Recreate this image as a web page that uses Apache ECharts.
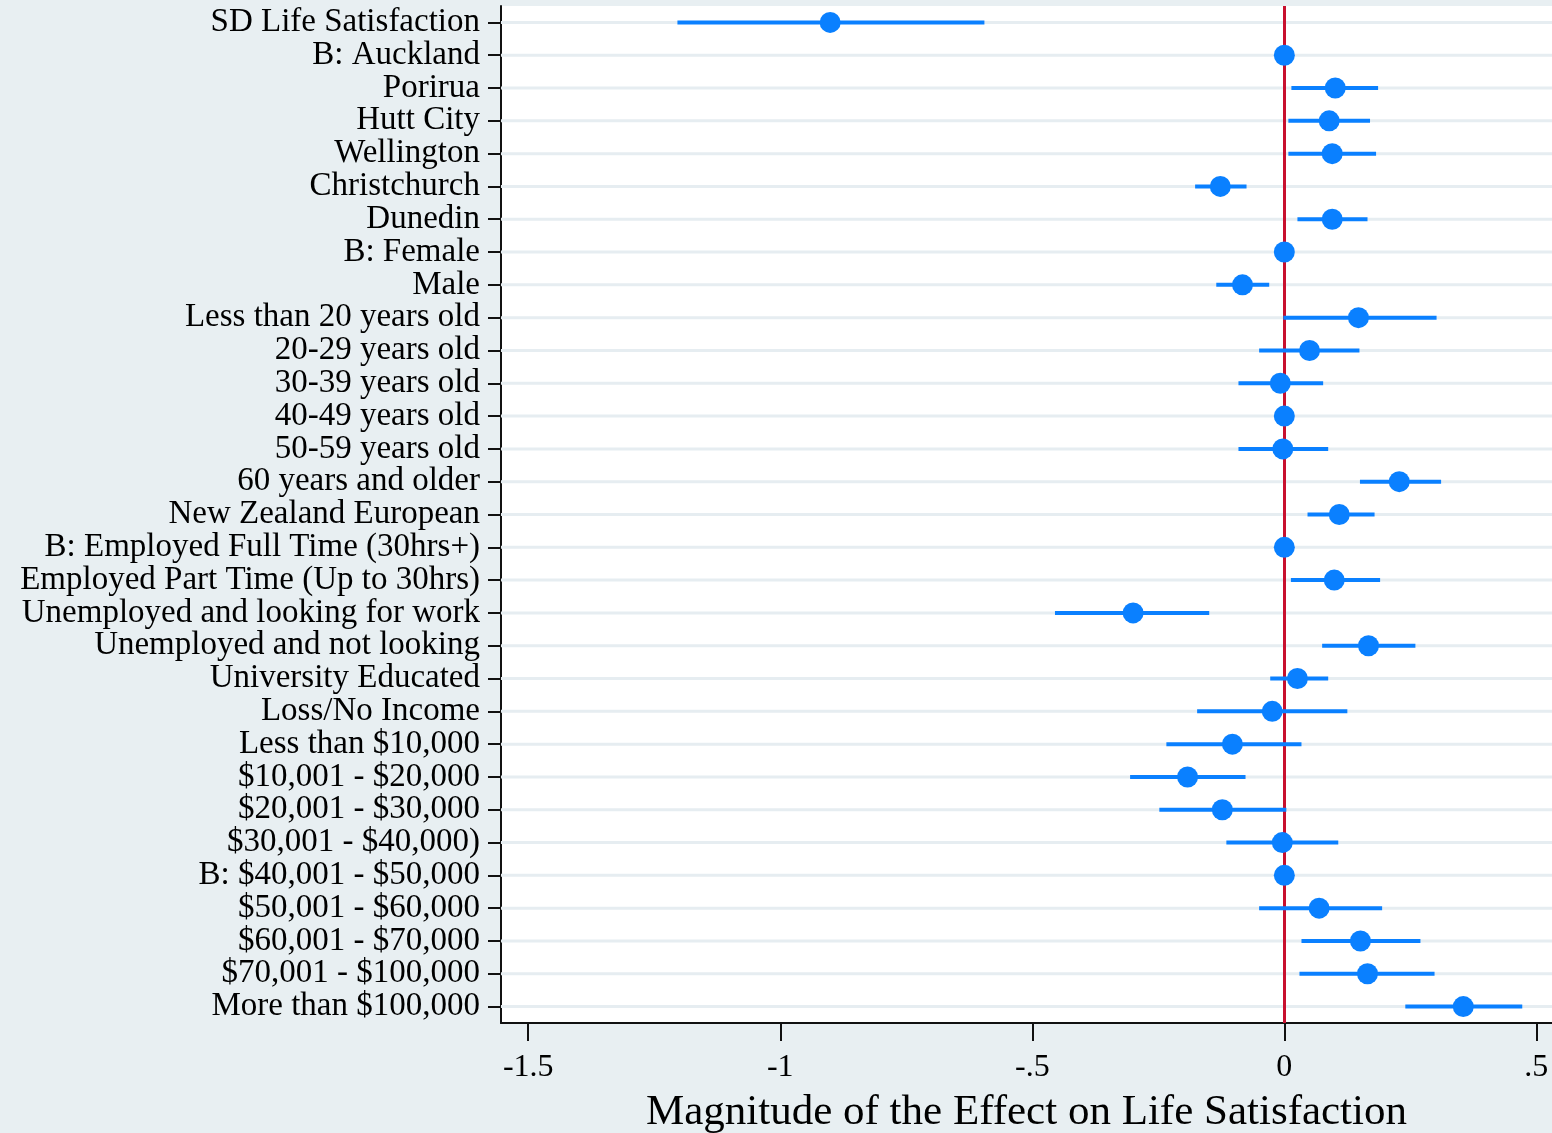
<!DOCTYPE html>
<html>
<head>
<meta charset="utf-8">
<script src="https://cdn.jsdelivr.net/npm/echarts@6/dist/echarts.min.js"></script>
<style>
html,body{margin:0;padding:0;background:#e8eff2;}
#chart{width:1552px;height:1133px;}
</style>
</head>
<body>
<div id="chart"></div>
<script>
const categories = [
  "SD Life Satisfaction", "B: Auckland", "Porirua", "Hutt City", "Wellington",
  "Christchurch", "Dunedin", "B: Female", "Male", "Less than 20 years old",
  "20-29 years old", "30-39 years old", "40-49 years old", "50-59 years old",
  "60 years and older", "New Zealand European", "B: Employed Full Time (30hrs+)",
  "Employed Part Time (Up to 30hrs)", "Unemployed and looking for work",
  "Unemployed and not looking", "University Educated", "Loss/No Income",
  "Less than $10,000", "$10,001 - $20,000", "$20,001 - $30,000",
  "$30,001 - $40,000)", "B: $40,001 - $50,000", "$50,001 - $60,000",
  "$60,001 - $70,000", "$70,001 - $100,000", "More than $100,000"
];
const estimates = [
  -0.901, 0, 0.101, 0.089, 0.095,
  -0.127, 0.095, 0, -0.083, 0.147,
  0.050, -0.008, 0, -0.003,
  0.228, 0.109, 0,
  0.099, -0.300,
  0.167, 0.026, -0.024,
  -0.103, -0.192, -0.123,
  -0.004, 0, 0.069,
  0.151, 0.165, 0.355
];
const lower = [
  -1.204, null, 0.014, 0.008, 0.008,
  -0.177, 0.026, null, -0.135, -0.002,
  -0.050, -0.091, null, -0.091,
  0.150, 0.046, null,
  0.013, -0.455,
  0.075, -0.028, -0.173,
  -0.234, -0.306, -0.248,
  -0.115, null, -0.050,
  0.034, 0.030, 0.240
];
const upper = [
  -0.595, null, 0.186, 0.170, 0.182,
  -0.075, 0.165, null, -0.030, 0.302,
  0.149, 0.077, null, 0.087,
  0.311, 0.179, null,
  0.190, -0.149,
  0.260, 0.087, 0.125,
  0.034, -0.077, 0.004,
  0.107, null, 0.194,
  0.270, 0.298, 0.472
];
const xTicks = [-1.5, -1, -0.5, 0, 0.5];
const xTickLabels = ["-1.5", "-1", "-.5", "0", ".5"];
const referenceValue = 0;

const FONT = "'Liberation Serif', 'Times New Roman', serif";
const chart = echarts.init(document.getElementById('chart'));

const pointData = estimates.map((v, i) => [v, i]);
const barData = [];
lower.forEach((lo, i) => { if (lo !== null) barData.push([lo, upper[i], i]); });
const gridData = categories.map((c, i) => [0, i]);

chart.setOption({
  backgroundColor: '#e8eff2',
  animation: false,
  tooltip: { show: false },
  grid: {
    left: 501, right: 0, top: 6, bottom: 110,
    containLabel: false, outerBoundsMode: 'none',
    show: true, backgroundColor: '#ffffff', borderWidth: 0
  },
  xAxis: {
    type: 'value',
    min: -1.554, max: 0.531,
    axisLine: { show: true, onZero: false, lineStyle: { color: '#111', width: 2 } },
    axisTick: { show: true, customValues: xTicks, length: 18, lineStyle: { color: '#111', width: 2 } },
    axisLabel: {
      customValues: xTicks,
      formatter: v => xTickLabels[xTicks.indexOf(v)] ?? '',
      fontFamily: FONT, fontSize: 32, color: '#000', margin: 29
    },
    splitLine: { show: false },
    name: 'Magnitude of the Effect on Life Satisfaction',
    nameLocation: 'middle', nameGap: 68,
    nameTextStyle: { fontFamily: FONT, fontSize: 43, color: '#000' }
  },
  yAxis: {
    type: 'category',
    data: categories,
    inverse: true,
    axisLine: { show: true, onZero: false, lineStyle: { color: '#111', width: 2 } },
    axisTick: { show: true, alignWithLabel: true, length: 13, lineStyle: { color: '#111', width: 2 } },
    axisLabel: { fontFamily: FONT, fontSize: 33, color: '#000', margin: 21, interval: 0 },
    splitLine: { show: false }
  },
  series: [
    {
      type: 'custom', z: 1, silent: true,
      data: gridData,
      encode: { x: 0, y: 1 },
      label: { show: false },
      renderItem: (params, api) => {
        const p = api.coord([api.value(0), api.value(1)]);
        const cs = params.coordSys;
        return { type: 'line', shape: { x1: cs.x, y1: p[1], x2: cs.x + cs.width, y2: p[1] },
          style: { stroke: '#e6edf1', lineWidth: 3 } };
      },
      markLine: {
        silent: true, symbol: 'none', z: 2,
        label: { show: false },
        lineStyle: { color: '#c8102e', width: 3, type: 'solid' },
        data: [{ xAxis: referenceValue }]
      }
    },
    {
      type: 'custom', z: 6, silent: true,
      data: barData,
      encode: { x: [0, 1], y: 2 },
      label: { show: false },
      renderItem: (params, api) => {
        const a = api.coord([api.value(0), api.value(2)]);
        const b = api.coord([api.value(1), api.value(2)]);
        return { type: 'line', shape: { x1: a[0], y1: a[1], x2: b[0], y2: b[1] },
          style: { stroke: '#0a80ff', lineWidth: 4 } };
      }
    },
    {
      type: 'scatter', z: 10,
      data: pointData,
      symbol: 'circle', symbolSize: 21,
      itemStyle: { color: '#0a80ff', opacity: 1 }
    }
  ]
});
</script>
</body>
</html>
